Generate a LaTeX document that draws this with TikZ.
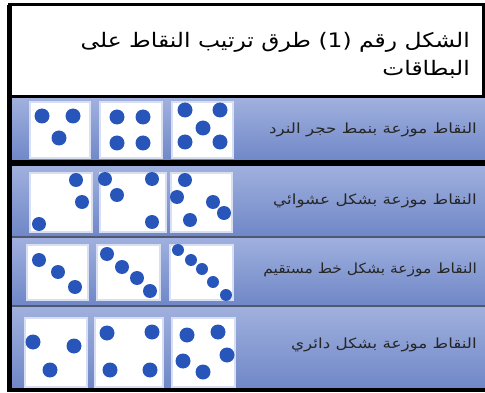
\documentclass[tikz,border=0pt]{standalone}
\usepackage{fontspec}
\newfontfamily\arabicfont[Script=Arabic]{DejaVu Sans}
\TeXXeTstate=1
\definecolor{dotblue}{RGB}{40,85,185}
\definecolor{paneltop}{RGB}{160,176,222}
\definecolor{panelbot}{RGB}{112,136,200}
\definecolor{rowline}{RGB}{80,88,112}
\begin{document}
\begin{tikzpicture}[x=1pt,y=-1pt,
  panel/.style={top color=paneltop,bottom color=panelbot,draw=none},
  card/.style={fill=white,draw=white!60!paneltop,line width=1.2pt},
  dot/.style={fill=dotblue},
  caption/.style={font=\arabicfont\fontsize{14}{16}\selectfont,text=black!85,
    anchor=east,inner sep=0pt,xscale=1.2,transform shape}]
  \useasboundingbox (0,0) rectangle (485,393);

  % Title box
  \draw[line width=3pt,fill=white] (9.5,5) rectangle (483.5,97);
  \node[anchor=north east,align=right,inner sep=0pt,xscale=1.17,transform shape,
        font=\arabicfont\fontsize{20}{28}\selectfont] (title) at (470,32)
    {\beginR الشكل رقم (1) طرق ترتيب النقاط على\endR\\ \beginR البطاقات\endR};

  % Row panels
  \shade[panel] (12,99) rectangle (485,160);
  \shade[panel] (12,166) rectangle (485,235.5);
  \shade[panel] (12,237.5) rectangle (485,304.5);
  \shade[panel] (12,307) rectangle (485,388);
  \fill[black] (12,160) rectangle (485,166);
  \fill[rowline] (12,235.5) rectangle (485,237.5);
  \fill[rowline] (12,304.5) rectangle (485,307);
  \fill[black] (7,388) rectangle (485,392);
  \fill[black] (7,5) rectangle (12,392);

  % Row 1 (dice)
  \draw[card] (30,102) rectangle (90,158);
  \draw[card] (100,102) rectangle (162,158);
  \draw[card] (172,102) rectangle (233,158);
  \fill[dot] (42,116) circle (7.5pt);
  \fill[dot] (73,116) circle (7.5pt);
  \fill[dot] (59,138) circle (7.5pt);
  \fill[dot] (117,117) circle (7.5pt);
  \fill[dot] (143,117) circle (7.5pt);
  \fill[dot] (117,143) circle (7.5pt);
  \fill[dot] (143,143) circle (7.5pt);
  \fill[dot] (185,110) circle (7.5pt);
  \fill[dot] (220,110) circle (7.5pt);
  \fill[dot] (203,128) circle (7.5pt);
  \fill[dot] (185,142) circle (7.5pt);
  \fill[dot] (220,142) circle (7.5pt);
  \node[caption] (cap1) at (477,130) {\beginR النقاط موزعة بنمط حجر النرد\endR};

  % Row 2 (random)
  \draw[card] (30,173) rectangle (92,232);
  \draw[card] (100,173) rectangle (166,232);
  \draw[card] (171,173) rectangle (232,232);
  \fill[dot] (76,180) circle (7pt);
  \fill[dot] (82,202) circle (7pt);
  \fill[dot] (39,224) circle (7pt);
  \fill[dot] (105,179) circle (7pt);
  \fill[dot] (117,195) circle (7pt);
  \fill[dot] (152,179) circle (7pt);
  \fill[dot] (152,222) circle (7pt);
  \fill[dot] (185,180) circle (7pt);
  \fill[dot] (177,197) circle (7pt);
  \fill[dot] (190,220) circle (7pt);
  \fill[dot] (213,202) circle (7pt);
  \fill[dot] (224,213) circle (7pt);
  \node[caption] (cap2) at (477,201) {\beginR النقاط موزعة بشكل عشوائي\endR};

  % Row 3 (straight line)
  \draw[card] (27,245) rectangle (88,300);
  \draw[card] (97,245) rectangle (160,300);
  \draw[card] (170,245) rectangle (233,300);
  \fill[dot] (39,260) circle (7pt);
  \fill[dot] (58,272) circle (7pt);
  \fill[dot] (75,287) circle (7pt);
  \fill[dot] (107,254) circle (7pt);
  \fill[dot] (122,267) circle (7pt);
  \fill[dot] (137,278) circle (7pt);
  \fill[dot] (150,291) circle (7pt);
  \fill[dot] (178,250) circle (6pt);
  \fill[dot] (191,260) circle (6pt);
  \fill[dot] (202,269) circle (6pt);
  \fill[dot] (213,282) circle (6pt);
  \fill[dot] (226,295) circle (6pt);
  \node[caption,xscale=0.92] (cap3) at (477,270) {\beginR النقاط موزعة بشكل خط مستقيم\endR};

  % Row 4 (circle)
  \draw[card] (25,318) rectangle (87,387);
  \draw[card] (95,318) rectangle (163,387);
  \draw[card] (172,318) rectangle (235,387);
  \fill[dot] (33,342) circle (7.5pt);
  \fill[dot] (74,346) circle (7.5pt);
  \fill[dot] (50,370) circle (7.5pt);
  \fill[dot] (107,333) circle (7.5pt);
  \fill[dot] (152,332) circle (7.5pt);
  \fill[dot] (110,370) circle (7.5pt);
  \fill[dot] (150,370) circle (7.5pt);
  \fill[dot] (187,335) circle (7.5pt);
  \fill[dot] (218,332) circle (7.5pt);
  \fill[dot] (227,355) circle (7.5pt);
  \fill[dot] (183,361) circle (7.5pt);
  \fill[dot] (203,372) circle (7.5pt);
  \node[caption] (cap4) at (477,345) {\beginR النقاط موزعة بشكل دائري\endR};
\end{tikzpicture}
\end{document}
